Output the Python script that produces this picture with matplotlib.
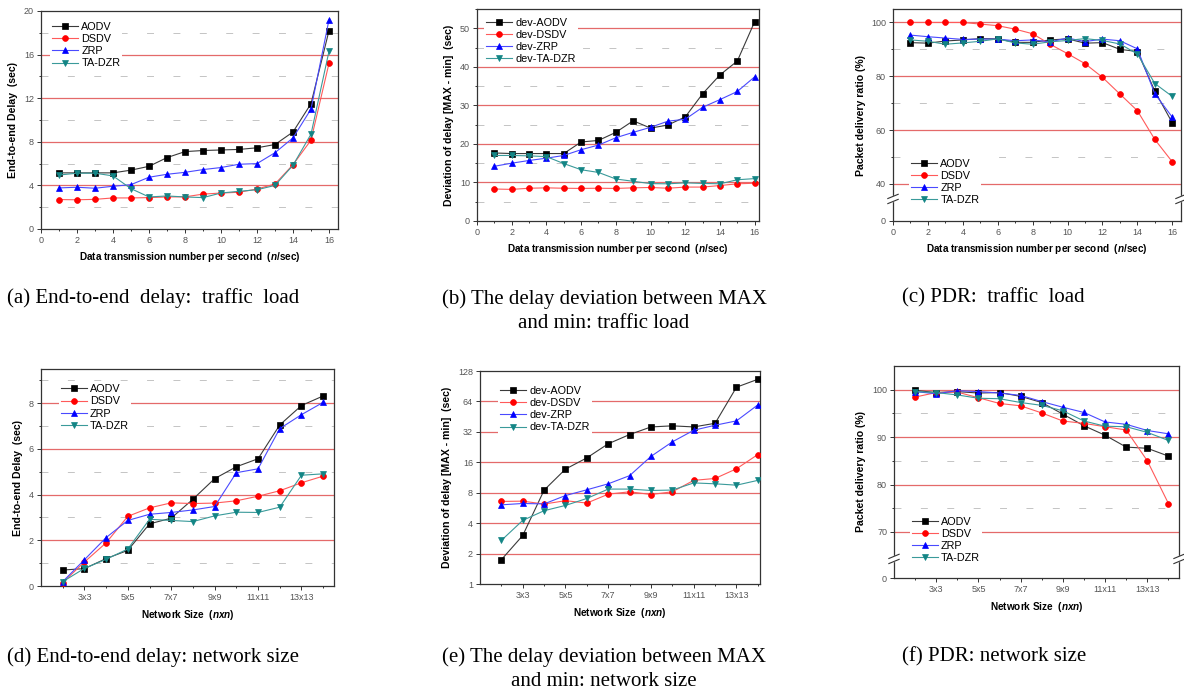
import numpy as np
import matplotlib
matplotlib.use("Agg")
import matplotlib.pyplot as plt
from matplotlib.patches import Rectangle
from matplotlib.ticker import FixedLocator, NullLocator, MultipleLocator

plt.rcParams["font.family"] = ["Liberation Sans", "DejaVu Sans"]
plt.rcParams["lines.scale_dashes"] = False
plt.rcParams["mathtext.fontset"] = "custom"
plt.rcParams["mathtext.it"] = "Liberation Sans:italic:bold"
plt.rcParams["mathtext.rm"] = "Liberation Sans:bold"

# traffic load (n/sec)
load = np.arange(1, 17)
delay_load_aodv = [5.15, 5.15, 5.15, 5.15, 5.4, 5.75, 6.55, 7.1, 7.2, 7.25, 7.3, 7.45, 7.75, 8.9, 11.5, 18.2]
delay_load_dsdv = [2.7, 2.68, 2.72, 2.85, 2.85, 2.88, 2.94, 2.95, 3.2, 3.3, 3.37, 3.67, 4.13, 5.9, 8.15, 15.2]
delay_load_zrp = [3.77, 3.83, 3.74, 3.92, 4.07, 4.75, 5.02, 5.2, 5.45, 5.64, 5.94, 6.0, 7.0, 8.36, 11.0, 19.2]
delay_load_tadzr = [4.95, 5.12, 5.12, 4.87, 3.7, 2.94, 3.03, 2.94, 2.88, 3.3, 3.46, 3.6, 4.0, 5.85, 8.7, 16.3]

dev_load_aodv = [17.65, 17.5, 17.5, 17.5, 17.5, 20.5, 20.9, 23.0, 26.0, 24.1, 24.9, 27.0, 33.0, 37.9, 41.5, 51.7]
dev_load_dsdv = [8.3, 8.2, 8.5, 8.6, 8.5, 8.45, 8.5, 8.45, 8.6, 8.7, 8.5, 8.8, 8.8, 9.2, 9.65, 9.8]
dev_load_zrp = [14.2, 15.0, 15.7, 16.3, 17.0, 18.5, 19.7, 21.6, 23.0, 24.3, 25.9, 26.4, 29.5, 31.5, 33.6, 37.4]
dev_load_tadzr = [17.0, 17.0, 16.9, 16.7, 14.9, 13.3, 12.6, 10.9, 10.3, 9.7, 9.65, 9.9, 9.75, 9.65, 10.7, 11.0]

pdr_load_aodv = [92.5, 92.3, 93.1, 93.5, 94.0, 93.9, 92.6, 92.6, 93.5, 93.9, 92.3, 92.5, 90.0, 89.2, 74.5, 62.7]
pdr_load_dsdv = [100, 100, 100, 100, 99.4, 98.8, 97.5, 95.8, 91.9, 88.4, 84.7, 79.6, 73.4, 67.2, 56.5, 48.2]
pdr_load_zrp = [95.3, 94.7, 94.2, 93.7, 93.8, 93.8, 93.2, 93.5, 92.8, 94.2, 92.9, 93.8, 93.2, 90.2, 73.5, 64.8]
pdr_load_tadzr = [93.5, 93.0, 91.9, 92.4, 93.0, 93.9, 92.4, 91.9, 92.8, 93.3, 94.0, 93.3, 92.0, 88.3, 77.3, 72.5]

# network size (n x n)
size = np.arange(2, 15)
size_ticks = [3, 5, 7, 9, 11, 13]
size_labels = ["3x3", "5x5", "7x7", "9x9", "11x11", "13x13"]
delay_size_aodv = [0.7, 0.76, 1.2, 1.56, 2.72, 2.97, 3.8, 4.7, 5.22, 5.57, 7.05, 7.9, 8.32]
delay_size_dsdv = [0.15, 1.05, 1.89, 3.05, 3.42, 3.64, 3.61, 3.63, 3.73, 3.93, 4.17, 4.52, 4.81]
delay_size_zrp = [0.19, 1.15, 2.12, 2.87, 3.14, 3.22, 3.33, 3.48, 4.96, 5.13, 6.89, 7.5, 8.04]
delay_size_tadzr = [0.19, 0.77, 1.17, 1.62, 2.92, 2.87, 2.82, 3.07, 3.23, 3.22, 3.45, 4.85, 4.91]

dev_size_aodv = [1.74, 3.02, 8.49, 13.7, 17.7, 24.4, 30.1, 35.8, 36.7, 35.8, 38.9, 88.5, 106]
dev_size_dsdv = [6.56, 6.6, 6.18, 6.67, 6.32, 7.74, 8.17, 7.68, 8.17, 10.6, 11.07, 13.8, 19.1]
dev_size_zrp = [6.07, 6.26, 6.2, 7.5, 8.55, 9.8, 11.8, 18.3, 25.5, 33.2, 37.2, 41.1, 59.2]
dev_size_tadzr = [2.7, 4.26, 5.31, 5.99, 7.02, 8.69, 8.69, 8.42, 8.5, 10.0, 9.8, 9.5, 10.6]

pdr_size_aodv = [99.86, 99.4, 99.6, 99.3, 99.4, 98.6, 97.3, 94.85, 92.4, 90.4, 87.9, 87.65, 86.0]
pdr_size_dsdv = [98.45, 99.4, 99.5, 98.3, 97.1, 96.6, 95.1, 93.4, 92.9, 92.2, 91.5, 85.0, 76.0]
pdr_size_zrp = [99.6, 99.15, 99.8, 99.6, 99.3, 98.8, 97.5, 96.3, 95.2, 93.2, 92.7, 91.4, 90.7]
pdr_size_tadzr = [99.6, 99.4, 98.9, 98.2, 98.1, 97.3, 96.7, 95.55, 93.4, 92.3, 92.2, 91.0, 89.3]

protocols = ["AODV", "DSDV", "ZRP", "TA-DZR"]
# (marker, marker colour, line colour)
styles = [("s", "#000000", "#3a3a3a"),
          ("o", "#ff0000", "#ff5a5a"),
          ("^", "#0000ff", "#4a4aff"),
          ("v", "#138585", "#3a9a9a")]

RED = "#e46a6a"
GRAY = "#c4c4c4"
TICK_COLOR = "#555555"

W, H = 1184, 693
fig = plt.figure(figsize=(W / 100, H / 100), dpi=100)


def axes_px(left, top, right, bottom):
    return fig.add_axes([left / W, 1 - bottom / H, (right - left) / W, (bottom - top) / H])


def plot_series(ax, x, series, prefix=""):
    for name, ys, (mk, mcol, lcol) in zip(protocols, series, styles):
        ax.plot(x, ys, color=lcol, lw=0.8, marker=mk, ms=4.2,
                mfc=mcol, mec=mcol, mew=0.5, label=prefix + name, zorder=3)


def grid(ax, red, gray):
    for y in red:
        ax.axhline(y, color=RED, lw=0.9, zorder=1)
    for y in gray:
        ax.axhline(y, color=GRAY, lw=0.7, ls=(0, (5, 14)), zorder=1)


def style_axes(ax, xlabel, ylabel):
    for sp in ax.spines.values():
        sp.set_linewidth(0.9)
        sp.set_color("#333333")
    ax.tick_params(which="both", direction="out", width=0.7, colors="#333333",
                   labelsize=6.5, labelcolor=TICK_COLOR, pad=2)
    ax.tick_params(which="major", length=3)
    ax.tick_params(which="minor", length=1.6)
    ax.set_xlabel(xlabel, fontsize=7.2, fontweight="bold", labelpad=4)
    ax.set_ylabel(ylabel, fontsize=7.6, fontweight="bold", labelpad=4)


def legend(ax, loc, anchor):
    leg = ax.legend(loc=loc, bbox_to_anchor=anchor, fontsize=7.8, frameon=True,
                    fancybox=False, edgecolor="none", facecolor="white", framealpha=1,
                    handlelength=2.4, handletextpad=0.3, labelspacing=0.2,
                    borderpad=0.2, borderaxespad=0)
    leg.set_zorder(5)


def add_break(ax, yfrac):
    for xa in (0, 1):
        ax.add_patch(Rectangle((xa - 0.02, yfrac - 0.012), 0.04, 0.024,
                               transform=ax.transAxes, color="white",
                               clip_on=False, zorder=6))
        for off in (-0.012, 0.012):
            ax.plot([xa - 0.018, xa + 0.018], [yfrac + off - 0.01, yfrac + off + 0.01],
                    transform=ax.transAxes, color="#333333", lw=0.8,
                    clip_on=False, zorder=7)


def broken_scale(ax, cut, gap):
    k = gap / cut

    def fwd(v):
        v = np.asarray(v, dtype=float)
        return np.where(v >= cut, v, cut - (cut - v) * k)

    def inv(u):
        u = np.asarray(u, dtype=float)
        return np.where(u >= cut, u, cut - (cut - u) / k)

    ax.set_yscale("function", functions=(fwd, inv))


xlab_load = "Data transmission number per second  ($\\mathit{n}$/sec)"
xlab_size = "Network Size  ($\\mathit{nxn}$)"
ylab_delay = "End-to-end Delay  (sec)"
ylab_dev = "Deviation of delay [MAX - min]  (sec)"
ylab_pdr = "Packet delivery ratio (%)"


def load_xaxis(ax, right):
    ax.set_xlim(0, right)
    ax.xaxis.set_major_locator(MultipleLocator(2))
    ax.xaxis.set_minor_locator(MultipleLocator(1))


def size_xaxis(ax, right):
    ax.set_xlim(1, right)
    ax.xaxis.set_major_locator(FixedLocator(size_ticks))
    ax.xaxis.set_minor_locator(FixedLocator(list(range(2, 15, 2))))
    ax.set_xticklabels(size_labels)


# (a) delay vs traffic load
ax = axes_px(41, 11, 338, 229)
plot_series(ax, load, [delay_load_aodv, delay_load_dsdv, delay_load_zrp, delay_load_tadzr])
grid(ax, [4, 8, 12, 16], [2, 6, 10, 14, 18])
load_xaxis(ax, 16.5)
ax.set_ylim(0, 20)
ax.yaxis.set_major_locator(MultipleLocator(4))
ax.yaxis.set_minor_locator(MultipleLocator(2))
style_axes(ax, xlab_load, ylab_delay)
legend(ax, "upper left", (0.03, 0.96))

# (b) delay deviation vs traffic load
ax = axes_px(477, 9, 759, 221)
plot_series(ax, load, [dev_load_aodv, dev_load_dsdv, dev_load_zrp, dev_load_tadzr], "dev-")
grid(ax, [10, 20, 30, 40, 50], [5, 15, 25, 35, 45])
load_xaxis(ax, 16.25)
ax.set_ylim(0, 55)
ax.yaxis.set_major_locator(MultipleLocator(10))
ax.yaxis.set_minor_locator(MultipleLocator(5))
style_axes(ax, xlab_load, ylab_dev)
legend(ax, "upper left", (0.025, 0.97))

# (c) PDR vs traffic load, broken axis
ax = axes_px(893, 9, 1181, 221)
broken_scale(ax, 40, 13.8)
plot_series(ax, load, [pdr_load_aodv, pdr_load_dsdv, pdr_load_zrp, pdr_load_tadzr])
grid(ax, [40, 60, 80, 100], [50, 70, 90])
load_xaxis(ax, 16.5)
ax.set_ylim(0, 105)
ax.yaxis.set_major_locator(FixedLocator([0, 40, 60, 80, 100]))
ax.yaxis.set_minor_locator(FixedLocator([50, 70, 90]))
ax.set_yticklabels(["0", "40", "60", "80", "100"])
style_axes(ax, xlab_load, ylab_pdr)
legend(ax, "lower left", (0.055, 0.065))
add_break(ax, 0.104)

# (d) delay vs network size
ax = axes_px(41, 369, 334, 586)
plot_series(ax, size, [delay_size_aodv, delay_size_dsdv, delay_size_zrp, delay_size_tadzr])
grid(ax, [2, 4, 6, 8], [1, 3, 5, 7, 9])
size_xaxis(ax, 14.5)
ax.set_ylim(0, 9.5)
ax.yaxis.set_major_locator(MultipleLocator(2))
ax.yaxis.set_minor_locator(MultipleLocator(1))
style_axes(ax, xlab_size, ylab_delay)
legend(ax, "upper left", (0.06, 0.94))

# (e) delay deviation vs network size, log2
ax = axes_px(480, 371, 760, 584)
plot_series(ax, size, [dev_size_aodv, dev_size_dsdv, dev_size_zrp, dev_size_tadzr], "dev-")
ax.set_yscale("log", base=2)
grid(ax, [2, 4, 8, 16, 32, 64], [])
size_xaxis(ax, 14.1)
ax.set_ylim(1, 128)
dev_ticks = [1, 2, 4, 8, 16, 32, 64, 128]
ax.yaxis.set_major_locator(FixedLocator(dev_ticks))
ax.yaxis.set_minor_locator(NullLocator())
ax.set_yticklabels([str(t) for t in dev_ticks])
style_axes(ax, xlab_size, ylab_dev)
legend(ax, "upper left", (0.065, 0.94))

# (f) PDR vs network size, broken axis
ax = axes_px(894, 366, 1179, 578)
broken_scale(ax, 70, 9.7)
plot_series(ax, size, [pdr_size_aodv, pdr_size_dsdv, pdr_size_zrp, pdr_size_tadzr])
grid(ax, [70, 80, 90, 100], [75, 85, 95])
size_xaxis(ax, 14.5)
ax.set_ylim(0, 105)
ax.yaxis.set_major_locator(FixedLocator([0, 70, 80, 90, 100]))
ax.yaxis.set_minor_locator(FixedLocator([75, 85, 95]))
ax.set_yticklabels(["0", "70", "80", "90", "100"])
style_axes(ax, xlab_size, ylab_pdr)
legend(ax, "lower left", (0.055, 0.06))
add_break(ax, 0.09)

# sub-figure captions
cap = dict(fontsize=15, family=["Liberation Serif", "DejaVu Serif"], va="center")
fig.text(7 / W, 1 - 298 / H, "(a) End-to-end  delay:  traffic  load", ha="left", **cap)
fig.text(604 / W, 1 - 311 / H, "(b) The delay deviation between MAX\nand min: traffic load",
         ha="center", multialignment="center", linespacing=1.4, **cap)
fig.text(902 / W, 1 - 298 / H, "(c) PDR:  traffic  load", ha="left", **cap)
fig.text(7 / W, 1 - 657 / H, "(d) End-to-end delay: network size", ha="left", **cap)
fig.text(604 / W, 1 - 669 / H, "(e) The delay deviation between MAX\nand min: network size",
         ha="center", multialignment="center", linespacing=1.4, **cap)
fig.text(902 / W, 1 - 657 / H, "(f) PDR: network size", ha="left", **cap)

fig.savefig("out.png", dpi=100, facecolor="white")
